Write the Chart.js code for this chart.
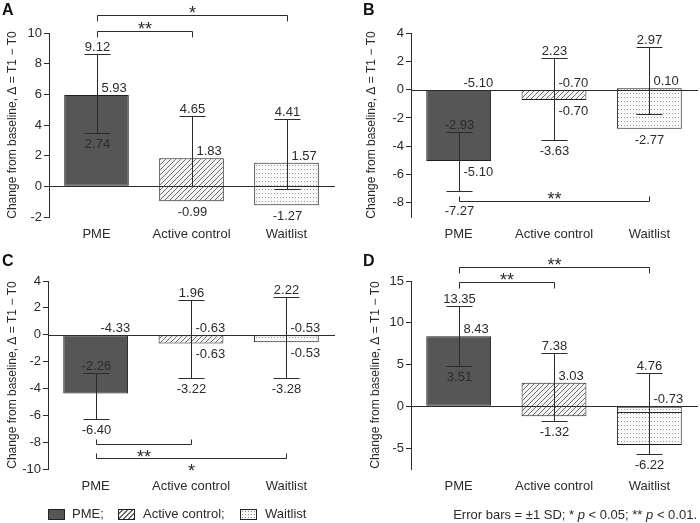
<!DOCTYPE html>
<html>
<head>
<meta charset="utf-8">
<script src="https://cdn.jsdelivr.net/npm/chart.js@4.4.1/dist/chart.umd.min.js"></script>
<style>
    body { margin: 0; background: #fff; }
    #page { position: relative; width: 700px; height: 523px; font-family: "Liberation Sans", Arial, sans-serif; color: #2b2b2b; }
    .panel { position: absolute; width: 350px; height: 250px; }
    .letter { position: absolute; font-weight: bold; font-size: 16px; line-height: 16px; color: #111; }
    .key { position: absolute; top: 509px; width: 15px; height: 9px; border: 1px solid #222; }
    .keytext { position: absolute; top: 506px; font-size: 13px; line-height: 16px; }
    #note { position: absolute; right: 3px; top: 507px; font-size: 13px; line-height: 16px; }
</style>
</head>
<body>
<div id="page">
    <div class="panel" style="left:0;top:0"><canvas id="chartA"></canvas></div>
    <div class="panel" style="left:350px;top:0"><canvas id="chartB"></canvas></div>
    <div class="panel" style="left:0;top:248px"><canvas id="chartC"></canvas></div>
    <div class="panel" style="left:350px;top:248px"><canvas id="chartD"></canvas></div>

    <div class="letter" style="left:2px;top:2px">A</div>
    <div class="letter" style="left:363px;top:2px">B</div>
    <div class="letter" style="left:2px;top:253px">C</div>
    <div class="letter" style="left:363px;top:253px">D</div>

    <div class="key" style="left:48px;background:#565656"></div>
    <div class="keytext" style="left:72px">PME;</div>
    <div class="key" style="left:118px;background:repeating-linear-gradient(-45deg,#666 0 1px,#f4f4f4 1px 3.5px)"></div>
    <div class="keytext" style="left:143px">Active control;</div>
    <div class="key" style="left:240px;background:radial-gradient(#888 0.7px,transparent 0.9px) 0 0/3px 3px,#f8f8f8"></div>
    <div class="keytext" style="left:265px">Waitlist</div>
    <div id="note">Error bars = ±1 SD; * <i>p</i> &lt; 0.05; ** <i>p</i> &lt; 0.01.</div>
</div>
<script>
const categories = ['PME', 'Active control', 'Waitlist'];

// A
const barLowA = [0, -0.98, -1.24];
const barHighA = [5.95, 1.83, 1.54];
const errLowA = [3.46, 0, -0.2];
const errHighA = [8.61, 4.57, 4.37];
const topLabelsA = ['9.12', '4.65', '4.41'];
const upperLabelsA = ['5.93', '1.83', '1.57'];
const lowerLabelsA = ['', '', ''];
const bottomLabelsA = ['2.74', '-0.99', '-1.27'];
const ticksA = [-2, 0, 2, 4, 6, 8, 10];
const sigPairsA = [[0, 1], [0, 2]];
const sigMarksA = ['**', '*'];
const sigLevelsA = [10.13, 11.18];

// B
const barLowB = [-5.05, -0.73, -2.77];
const barHighB = [0, 0, 0.1];
const errLowB = [-7.15, -3.55, -1.74];
const errHighB = [-2.96, 2.22, 2.99];
const topLabelsB = ['-2.93', '2.23', '2.97'];
const upperLabelsB = ['-5.10', '-0.70', '0.10'];
const lowerLabelsB = ['-5.10', '-0.70', ''];
const bottomLabelsB = ['-7.27', '-3.63', '-2.77'];
const ticksB = [-8, -6, -4, -2, 0, 2, 4];
const sigPairsB = [[0, 2]];
const sigMarksB = ['**'];
const sigLevelsB = [-7.85];

// C
const barLowC = [-4.37, -0.65, -0.57];
const barHighC = [0, 0, 0];
const errLowC = [-6.3, -3.26, -3.26];
const errHighC = [-2.84, 2.55, 2.79];
const topLabelsC = ['-2.26', '1.96', '2.22'];
const upperLabelsC = ['-4.33', '-0.63', '-0.53'];
const lowerLabelsC = ['', '-0.63', '-0.53'];
const bottomLabelsC = ['-6.40', '-3.22', '-3.28'];
const ticksC = [-10, -8, -6, -4, -2, 0, 2, 4];
const sigPairsC = [[0, 1], [0, 2]];
const sigMarksC = ['**', '*'];
const sigLevelsC = [-8.14, -9.16];

// D
const barLowD = [0, -1.2, -4.63];
const barHighD = [8.4, 2.81, 0];
const errLowD = [4.8, -1.75, -5.71];
const errHighD = [12.0, 6.41, 3.96];
const meanLinesD = [null, null, -0.64];
const topLabelsD = ['13.35', '7.38', '4.76'];
const upperLabelsD = ['8.43', '3.03', '-0.73'];
const lowerLabelsD = ['', '', ''];
const bottomLabelsD = ['3.51', '-1.32', '-6.22'];
const ticksD = [-5, 0, 5, 10, 15];
const sigPairsD = [[0, 1], [0, 2]];
const sigMarksD = ['**', '**'];
const sigLevelsD = [14.85, 16.64];

const ink = '#2b2b2b';
const family = '"Liberation Sans", Arial, sans-serif';

function makeHatch() {
    const c = document.createElement('canvas');
    c.width = 5;
    c.height = 5;
    const g = c.getContext('2d');
    g.fillStyle = '#f4f4f4';
    g.fillRect(0, 0, 5, 5);
    g.strokeStyle = '#5e5e5e';
    g.lineWidth = 0.9;
    g.beginPath();
    g.moveTo(0, 5); g.lineTo(5, 0);
    g.moveTo(-1, 1); g.lineTo(1, -1);
    g.moveTo(4, 6); g.lineTo(6, 4);
    g.stroke();
    return g.createPattern(c, 'repeat');
}

function makeDots() {
    const c = document.createElement('canvas');
    c.width = 3;
    c.height = 4;
    const g = c.getContext('2d');
    g.fillStyle = '#f9f9f9';
    g.fillRect(0, 0, 3, 4);
    g.fillStyle = '#9a9a9a';
    g.fillRect(1, 1, 1, 1);
    return g.createPattern(c, 'repeat');
}

const fills = ['#565656', makeHatch(), makeDots()];

const annotations = {
    id: 'annotations',
    afterDatasetsDraw(chart, args, opts) {
        const ctx = chart.ctx;
        const y = chart.scales.y;
        const area = chart.chartArea;
        const bars = chart.getDatasetMeta(0).data;
        const py = (v) => Math.round(y.getPixelForValue(v)) + 0.5;

        ctx.save();
        ctx.strokeStyle = ink;
        ctx.fillStyle = ink;
        ctx.lineWidth = 1;

        // zero line
        const y0 = py(0);
        ctx.beginPath();
        ctx.moveTo(area.left, y0);
        ctx.lineTo(area.right + 1, y0);
        ctx.stroke();

        const bracketYs = opts.sigLevels.map(py);

        bars.forEach((bar, i) => {
            const x = Math.round(bar.x) + 0.5;
            const hi = py(opts.errHigh[i]);
            const lo = py(opts.errLow[i]);

            if (opts.meanLines && opts.meanLines[i] !== null) {
                const ym = py(opts.meanLines[i]);
                ctx.beginPath();
                ctx.moveTo(bar.x - bar.width / 2, ym);
                ctx.lineTo(bar.x + bar.width / 2, ym);
                ctx.stroke();
            }

            ctx.beginPath();
            ctx.moveTo(x, hi);
            ctx.lineTo(x, lo);
            ctx.moveTo(x - 13, hi);
            ctx.lineTo(x + 13, hi);
            ctx.moveTo(x - 13, lo);
            ctx.lineTo(x + 13, lo);
            ctx.stroke();

            ctx.font = '13px ' + family;

            ctx.textAlign = 'center';
            ctx.textBaseline = 'bottom';
            ctx.fillText(opts.topLabels[i], x, hi - 1);

            ctx.textAlign = 'left';
            ctx.fillText(opts.upperLabels[i], x + 4, py(opts.barHigh[i]) - 1);

            ctx.textBaseline = 'top';
            if (opts.lowerLabels[i]) {
                ctx.fillText(opts.lowerLabels[i], x + 4, py(opts.barLow[i]) + 4);
            }

            let anchor = lo;
            if (opts.barLow[i] < 0) {
                anchor = Math.max(lo, py(opts.barLow[i]));
            }
            let top = anchor + 4;
            bracketYs.forEach((by) => {
                if (by > top - 2 && by < top + 14) {
                    top = by + 3;
                }
            });
            ctx.textAlign = 'center';
            ctx.fillText(opts.bottomLabels[i], x, top);
        });

        // significance brackets
        ctx.font = '18px ' + family;
        ctx.textAlign = 'center';
        ctx.textBaseline = 'alphabetic';
        opts.sigPairs.forEach((pair, k) => {
            const x1 = Math.round(bars[pair[0]].x) + 0.5;
            const x2 = Math.round(bars[pair[1]].x) + 0.5;
            const yl = bracketYs[k];
            const dir = opts.sigLevels[k] > 0 ? 6 : -5;
            ctx.beginPath();
            ctx.moveTo(x1, yl + dir);
            ctx.lineTo(x1, yl);
            ctx.lineTo(x2, yl);
            ctx.lineTo(x2, yl + dir);
            ctx.stroke();
            const ty = opts.marksBelow ? yl + 18.5 : yl + 3;
            ctx.fillText(opts.sigMarks[k], (x1 + x2) / 2, ty);
        });

        ctx.restore();
    }
};

function buildPanel(id, p) {
    new Chart(document.getElementById(id), {
        type: 'bar',
        data: {
            labels: categories,
            datasets: [{
                data: categories.map((_, i) => [p.barLow[i], p.barHigh[i]]),
                backgroundColor: fills,
                borderColor: '#1e1e1e',
                borderWidth: 1,
                borderSkipped: false,
                categoryPercentage: 1,
                barPercentage: 0.68
            }]
        },
        options: {
            responsive: true,
            maintainAspectRatio: false,
            animation: false,
            events: [],
            layout: { padding: { top: 33, right: p.padRight, left: 0, bottom: 0 } },
            plugins: {
                legend: { display: false },
                tooltip: { enabled: false },
                annotations: p
            },
            scales: {
                x: {
                    offset: true,
                    grid: { display: false, drawTicks: false },
                    border: { display: false },
                    ticks: { color: ink, font: { size: 13, family }, padding: 10 },
                    afterFit: (scale) => { scale.height = p.xHeight; }
                },
                y: {
                    min: p.min,
                    max: p.max,
                    afterBuildTicks: (scale) => { scale.ticks = p.ticks.map((v) => ({ value: v })); },
                    afterFit: (scale) => { scale.width = p.axisWidth; },
                    grid: { drawOnChartArea: false, drawTicks: true, tickLength: 5, color: ink },
                    border: { display: true, color: ink, width: 1 },
                    ticks: { color: ink, font: { size: 13, family }, padding: 2 },
                    title: {
                        display: true,
                        text: 'Change from baseline, \u0394 = T1 \u2212 T0',
                        color: ink,
                        font: { size: 12, family },
                        padding: { top: p.titlePad, bottom: 0 }
                    }
                }
            }
        },
        plugins: [annotations]
    });
}

buildPanel('chartA', {
    barLow: barLowA, barHigh: barHighA, errLow: errLowA, errHigh: errHighA,
    topLabels: topLabelsA, upperLabels: upperLabelsA, lowerLabels: lowerLabelsA, bottomLabels: bottomLabelsA,
    ticks: ticksA, min: -2, max: 10,
    sigPairs: sigPairsA, sigMarks: sigMarksA, sigLevels: sigLevelsA,
    axisWidth: 49, padRight: 16, xHeight: 33, titlePad: 5
});

buildPanel('chartB', {
    barLow: barLowB, barHigh: barHighB, errLow: errLowB, errHigh: errHighB,
    topLabels: topLabelsB, upperLabels: upperLabelsB, lowerLabels: lowerLabelsB, bottomLabels: bottomLabelsB,
    ticks: ticksB, min: -9, max: 4,
    sigPairs: sigPairsB, sigMarks: sigMarksB, sigLevels: sigLevelsB,
    axisWidth: 61, padRight: 3, xHeight: 33, titlePad: 14
});

buildPanel('chartC', {
    barLow: barLowC, barHigh: barHighC, errLow: errLowC, errHigh: errHighC,
    topLabels: topLabelsC, upperLabels: upperLabelsC, lowerLabels: lowerLabelsC, bottomLabels: bottomLabelsC,
    ticks: ticksC, min: -10, max: 4,
    sigPairs: sigPairsC, sigMarks: sigMarksC, sigLevels: sigLevelsC, marksBelow: true,
    axisWidth: 48, padRight: 16, xHeight: 29, titlePad: 5
});

buildPanel('chartD', {
    barLow: barLowD, barHigh: barHighD, errLow: errLowD, errHigh: errHighD, meanLines: meanLinesD,
    topLabels: topLabelsD, upperLabels: upperLabelsD, lowerLabels: lowerLabelsD, bottomLabels: bottomLabelsD,
    ticks: ticksD, min: -7.5, max: 15,
    sigPairs: sigPairsD, sigMarks: sigMarksD, sigLevels: sigLevelsD,
    axisWidth: 61, padRight: 3, xHeight: 29, titlePad: 18
});
</script>
</body>
</html>
